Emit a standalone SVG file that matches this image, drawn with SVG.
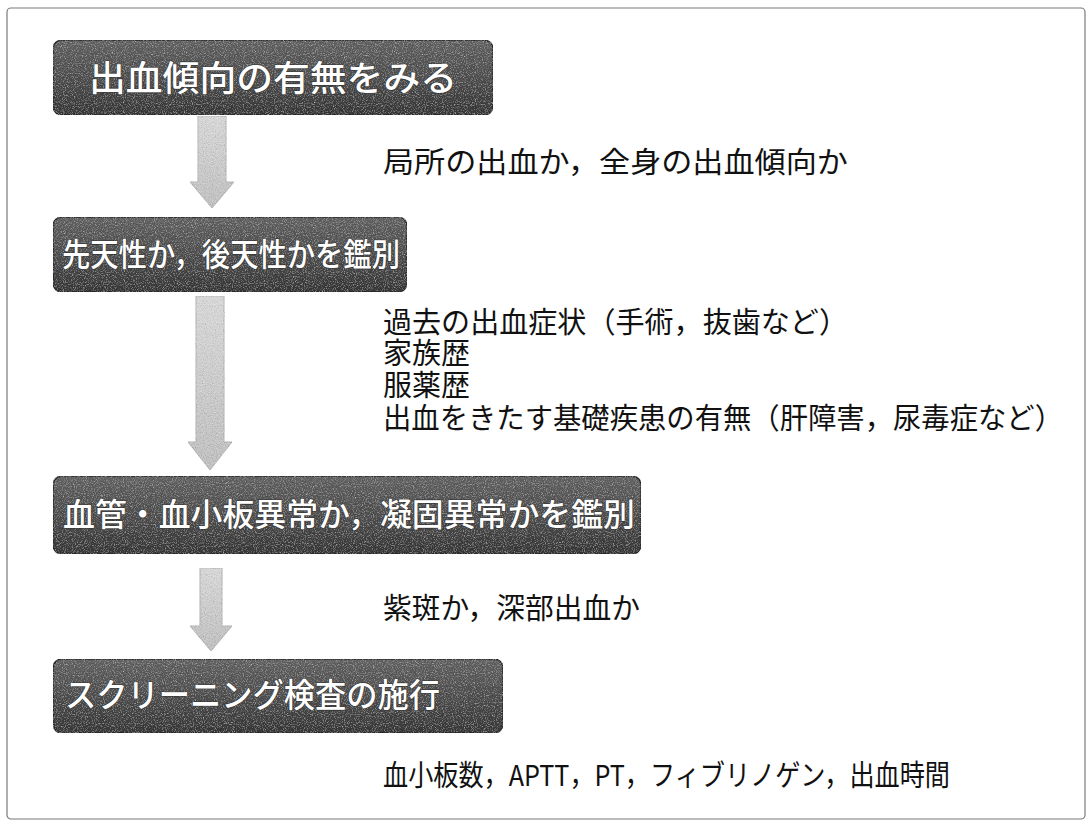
<svg xmlns="http://www.w3.org/2000/svg" width="1092" height="823" viewBox="0 0 1092 823">
<style>
  .box { fill: url(#boxg); stroke: #2a2a2a; stroke-width: 1.5; filter: url(#grain); }
  .btxt { font-family: "Noto Sans CJK JP", "Noto Sans", sans-serif; font-weight: 500; fill: #ffffff; stroke: #333333; stroke-width: 1.2; paint-order: stroke; }
  .arrow { fill: url(#arrg); stroke: #b0b0b0; stroke-width: 0.8; filter: url(#grain); }
  .note { font-family: "Noto Sans CJK JP", "Noto Sans", sans-serif; font-size: 29px; fill: #111111; }
</style>
<defs>
  <linearGradient id="boxg" x1="0" y1="0" x2="0" y2="1">
    <stop offset="0" stop-color="#626262"/>
    <stop offset="0.5" stop-color="#4e4e4e"/>
    <stop offset="1" stop-color="#363636"/>
  </linearGradient>
  <linearGradient id="arrg" x1="0" y1="0" x2="0" y2="1">
    <stop offset="0" stop-color="#d8d8d8"/>
    <stop offset="1" stop-color="#c0c0c0"/>
  </linearGradient>
  <filter id="grain" x="0" y="0" width="100%" height="100%">
    <feTurbulence type="fractalNoise" baseFrequency="0.9" numOctaves="2" seed="4" result="n"/>
    <feColorMatrix in="n" type="saturate" values="0" result="g"/>
    <feComposite in="g" in2="SourceGraphic" operator="in" result="gi"/>
    <feBlend in="SourceGraphic" in2="gi" mode="overlay"/>
  </filter>
</defs>
<rect x="0" y="0" width="1092" height="823" fill="#ffffff"/>
<rect x="7" y="8" width="1078" height="811" rx="4" fill="none" stroke="#7a7a7a" stroke-width="1.2"/>

<g id="connectors">
  <path class="arrow" d="M198,116 H226 V182 H234 L212,208 L190,182 H198 Z"/>
  <path class="arrow" d="M196,296 H224 V442 H232 L210,470 L188,442 H196 Z"/>
  <path class="arrow" d="M200,568 H222 V626 H232 L211,651 L190,626 H200 Z"/>
</g>

<g id="node1">
  <rect class="box" x="53" y="40" width="440" height="75" rx="9"/>
  <text class="btxt" x="89" y="91" font-size="35" textLength="368" lengthAdjust="spacingAndGlyphs">出血傾向の有無をみる</text>
</g>
<g id="note1">
  <text class="note" x="383" y="173" textLength="465" lengthAdjust="spacingAndGlyphs">局所の出血か，全身の出血傾向か</text>
</g>

<g id="node2">
  <rect class="box" x="53" y="217" width="354" height="75" rx="9"/>
  <text class="btxt" x="62" y="266" font-size="32" textLength="338" lengthAdjust="spacingAndGlyphs">先天性か，後天性かを鑑別</text>
</g>
<g id="note2">
  <text class="note"><tspan x="383" y="333" textLength="465" lengthAdjust="spacingAndGlyphs">過去の出血症状（手術，抜歯など）</tspan><tspan x="383" y="364">家族歴</tspan><tspan x="383" y="396">服薬歴</tspan><tspan x="383" y="429" textLength="680" lengthAdjust="spacingAndGlyphs">出血をきたす基礎疾患の有無（肝障害，尿毒症など）</tspan></text>
</g>

<g id="node3">
  <rect class="box" x="53" y="476" width="588" height="78" rx="9"/>
  <text class="btxt" x="63" y="526" font-size="32" textLength="572" lengthAdjust="spacingAndGlyphs">血管・血小板異常か，凝固異常かを鑑別</text>
</g>
<g id="note3">
  <text class="note" x="383" y="619" textLength="257" lengthAdjust="spacingAndGlyphs">紫斑か，深部出血か</text>
</g>

<g id="node4">
  <rect class="box" x="53" y="659" width="450" height="74" rx="9"/>
  <text class="btxt" x="65" y="707" font-size="33" textLength="375" lengthAdjust="spacingAndGlyphs">スクリーニング検査の施行</text>
</g>
<g id="note4">
  <text class="note" x="383" y="786" textLength="567" lengthAdjust="spacingAndGlyphs">血小板数，APTT，PT，フィブリノゲン，出血時間</text>
</g>
</svg>
